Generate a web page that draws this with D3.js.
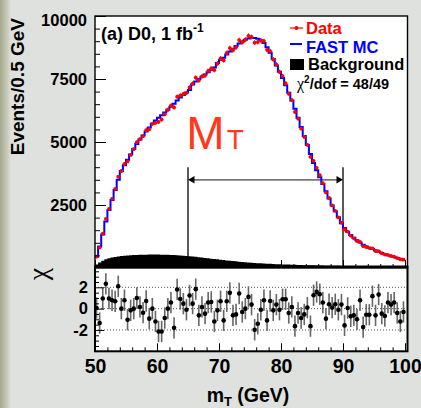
<!DOCTYPE html>
<html>
<head>
<meta charset="utf-8">
<script src="https://cdn.jsdelivr.net/npm/d3@7"></script>
<style>
html, body { margin: 0; padding: 0; background: #dfe1de; }
svg { display: block; font-family: "Liberation Sans", Arial, Helvetica, sans-serif; }
</style>
</head>
<body>
<svg width="421" height="408"></svg>
<script>
const width = 421;
const height = 408;

// histogram binning: 0.5 GeV bins from 50 to 100 GeV
const mtLow = 50, mtHigh = 100, binWidth = 0.5;

// FAST MC prediction, events per bin
const mcValues = [
  450, 850, 1330, 1850, 2300, 2700, 3100, 3500, 3850, 4080,
  4300, 4500, 4720, 4920, 5100, 5260, 5420, 5580, 5720, 5850,
  5960, 6060, 6170, 6280, 6400, 6520, 6650, 6770, 6870, 6960,
  7060, 7280, 7400, 7500, 7590, 7680, 7770, 7860, 7960, 8130,
  8250, 8340, 8470, 8590, 8700, 8810, 8910, 8990, 9060, 9110,
  9130, 9130, 9100, 9040, 8930, 8760, 8540, 8290, 8040, 7790,
  7540, 7250, 6950, 6650, 6320, 5960, 5600, 5240, 4880, 4520,
  4170, 3880, 3600, 3330, 3050, 2760, 2480, 2250, 2010, 1780,
  1590, 1440, 1310, 1200, 1100, 1010, 920, 850, 805, 750,
  690, 640, 600, 550, 510, 470, 435, 400, 365, 335
];

// measured data, events per bin
const dataValues = [
  451, 811, 1364, 1950, 2346, 2741, 3139, 3624, 3850, 4131,
  4231, 4489, 4720, 4990, 5111, 5232, 5473, 5510, 5720, 5759,
  5795, 5893, 6100, 6280, 6446, 6374, 6798, 6845, 6909, 6952,
  7163, 7320, 7557, 7445, 7604, 7639, 7820, 7916, 7853, 8116,
  8313, 8240, 8533, 8728, 8641, 8759, 9043, 8961, 9060, 9215,
  9166, 8940, 8965, 9030, 9004, 8657, 8606, 8275, 8074, 7781,
  7617, 7325, 6916, 6663, 6190, 5928, 5534, 5201, 4887, 4410,
  4252, 3977, 3681, 3363, 2998, 2782, 2485, 2269, 2005, 1796,
  1527, 1442, 1284, 1178, 1067, 1035, 868, 833, 789, 782,
  674, 673, 588, 534, 523, 478, 447, 392, 342, 329
];

// background, events per bin
const bkgValues = [
  140, 220, 290, 345, 385, 415, 440, 460, 475, 487,
  497, 505, 512, 518, 523, 527, 530, 532, 533, 533,
  532, 530, 527, 523, 518, 512, 505, 497, 488, 478,
  467, 455, 442, 428, 414, 400, 386, 372, 358, 344,
  330, 316, 302, 289, 276, 264, 252, 241, 230, 220,
  210, 201, 193, 185, 178, 171, 165, 159, 153, 148,
  143, 138, 134, 130, 126, 122, 118, 114, 111, 108,
  105, 102, 99, 96, 93, 91, 89, 87, 85, 83,
  81, 79, 77, 75, 73, 71, 69, 67, 65, 63,
  62, 61, 60, 59, 58, 57, 56, 55, 54, 53
];

// chi = (data - MC) / sigma per bin
const chiValues = [
  0.06, -1.35, 0.95, 2.33, 0.95, 0.79, 0.69, 2.1, 0, 0.79,
  -1.04, -0.16, 0, 1.0, 0.16, -0.38, 0.72, -0.94, 0, -1.2,
  -2.14, -2.14, -0.88, 0, 0.57, -1.8, 1.8, 0.91, 0.47, -0.1,
  1.23, 0.47, 1.83, -0.63, 0.16, -0.47, 0.57, 0.63, -1.2, -0.16,
  0.69, -1.1, 0.69, 1.48, -0.63, -0.54, 1.42, -0.31, 0, 1.1,
  0.38, -1.98, -1.42, -0.1, 0.79, -1.1, 0.72, -0.16, 0.38, -0.1,
  0.88, 0.88, -0.41, 0.16, -1.64, -0.41, -0.88, -0.54, 0.1, -1.64,
  1.26, 1.57, 1.35, 0.57, -0.94, 0.41, 0.1, 0.41, -0.1, 0.38,
  -1.57, 0.06, -0.72, -0.63, -1.0, 0.79, -1.73, -0.57, -0.57, 1.17,
  -0.63, 1.32, -0.47, -0.69, 0.57, 0.38, 0.57, -0.41, -1.2, -0.31
];

const xTicks = [50, 60, 70, 80, 90, 100];
const yTicks = [2500, 5000, 7500, 10000];
const chiTicks = [-2, 0, 2];
const legendLabels = ["Data", "FAST MC", "Background"];
const fitLabel = "/dof = 48/49";
const mtWindow = [65, 90];

const bins = mcValues.map((v, i) => ({
  lo: mtLow + i * binWidth,
  mid: mtLow + (i + 0.5) * binWidth,
  mc: v,
  data: dataValues[i],
  bkg: bkgValues[i],
  chi: chiValues[i]
}));

const svg = d3.select("svg");

// slide background, darker strip on the left
const grad = svg.append("defs").append("linearGradient")
  .attr("id", "edge").attr("x1", "0").attr("x2", "1");
grad.append("stop").attr("offset", "0").attr("stop-color", "#a6a98f");
grad.append("stop").attr("offset", "0.6").attr("stop-color", "#c4c7b3");
grad.append("stop").attr("offset", "1").attr("stop-color", "#dfe1de");
svg.append("rect").attr("width", width).attr("height", height).attr("fill", "#dfe1de");
svg.append("rect").attr("width", 11).attr("height", height).attr("fill", "url(#edge)");

// scales
const x = d3.scaleLinear().domain([mtLow, mtHigh]).range([95, 405]);
const y = d3.scaleLinear().domain([0, 10000]).range([268, 16]);
const yChi = d3.scaleLinear().domain([-4, 4]).range([351.3, 266]);

const frameLeft = 95, frameRight = 407.5;

// panel backgrounds
svg.append("rect").attr("x", frameLeft).attr("y", 16)
  .attr("width", frameRight - frameLeft).attr("height", 252).attr("fill", "#fff");
svg.append("rect").attr("x", frameLeft).attr("y", 267)
  .attr("width", frameRight - frameLeft).attr("height", 84.3).attr("fill", "#fff");

const g1 = svg.append("g");

// mT window arrow
const arrowY = y(3500);
mtWindow.forEach(m => {
  g1.append("line")
    .attr("x1", x(m)).attr("x2", x(m))
    .attr("y1", y(4000)).attr("y2", y(0))
    .attr("stroke", "#000").attr("stroke-width", 1.3);
});
g1.append("line")
  .attr("x1", x(mtWindow[0]) + 5).attr("x2", x(mtWindow[1]) - 5)
  .attr("y1", arrowY).attr("y2", arrowY)
  .attr("stroke", "#777").attr("stroke-width", 1.8);
g1.append("path")
  .attr("d", `M${x(mtWindow[0])},${arrowY} l6.5,-3.8 l0,7.6 Z`)
  .attr("fill", "#000");
g1.append("path")
  .attr("d", `M${x(mtWindow[1])},${arrowY} l-6.5,-3.8 l0,7.6 Z`)
  .attr("fill", "#000");

// background histogram
const stepPts = key => bins.map(b => [b.lo, b[key]]).concat([[mtHigh, bins[bins.length - 1][key]]]);
g1.append("path")
  .datum(stepPts("bkg"))
  .attr("d", d3.area().curve(d3.curveStepAfter)
    .x(d => x(d[0])).y0(y(0)).y1(d => y(d[1])))
  .attr("fill", "#000");

// FAST MC histogram
g1.append("path")
  .datum(stepPts("mc"))
  .attr("d", d3.line().curve(d3.curveStepAfter).x(d => x(d[0])).y(d => y(d[1])))
  .attr("fill", "none")
  .attr("stroke", "#0000ff")
  .attr("stroke-width", 2);

// data points with error bars
g1.selectAll(".derr")
  .data(bins).enter().append("line")
  .attr("x1", d => x(d.mid)).attr("x2", d => x(d.mid))
  .attr("y1", d => y(d.data - Math.sqrt(d.data)))
  .attr("y2", d => y(d.data + Math.sqrt(d.data)))
  .attr("stroke", "#ff0000").attr("stroke-width", 1);
g1.selectAll(".dpt")
  .data(bins).enter().append("circle")
  .attr("cx", d => x(d.mid))
  .attr("cy", d => y(d.data))
  .attr("r", 1.9)
  .attr("fill", "#ff0000");

// M_T label
const mtText = g1.append("text")
  .attr("x", 186.3).attr("y", 148.5)
  .attr("fill", "#ff3a1c")
  .attr("font-size", 46);
mtText.append("tspan").text("M");
mtText.append("tspan").attr("font-size", 28).attr("dx", 2).text("T");

// title
const title = g1.append("text")
  .attr("x", 101).attr("y", 40)
  .attr("font-size", 18).attr("font-weight", "bold");
title.append("tspan").text("(a) D0, 1 fb");
title.append("tspan").attr("font-size", 12).attr("dy", -8).text("-1");

// legend
const legend = svg.append("g");
legend.append("line").attr("x1", 290).attr("x2", 303).attr("y1", 28).attr("y2", 28)
  .attr("stroke", "#ff0000").attr("stroke-width", 1.2);
legend.append("circle").attr("cx", 296.5).attr("cy", 28).attr("r", 1.9).attr("fill", "#ff0000");
legend.append("line").attr("x1", 290).attr("x2", 302).attr("y1", 44).attr("y2", 44)
  .attr("stroke", "#0000ff").attr("stroke-width", 2);
legend.append("rect").attr("x", 290).attr("y", 59).attr("width", 14).attr("height", 11)
  .attr("fill", "#000");
const legendColors = ["#ff0000", "#0000ff", "#000"];
const legendX = [306, 306, 308];
const legendY = [34.3, 53, 69.5];
legendLabels.forEach((lab, i) => {
  legend.append("text")
    .attr("x", legendX[i]).attr("y", legendY[i])
    .attr("font-size", 16.5).attr("font-weight", "bold")
    .attr("fill", legendColors[i])
    .text(lab);
});
const fit = legend.append("text")
  .attr("x", 297).attr("y", 89.3)
  .attr("font-size", 14.5).attr("font-weight", "bold");
fit.append("tspan").attr("font-family", "'Liberation Serif', serif").attr("font-weight", "normal")
  .attr("font-size", 16).text("χ");
fit.append("tspan").attr("font-size", 10).attr("dy", -6).text("2");
fit.append("tspan").attr("dy", 6).text(fitLabel);

// ratio panel
const g2 = svg.append("g");
chiTicks.forEach(t => {
  g2.append("line")
    .attr("x1", frameLeft).attr("x2", frameRight)
    .attr("y1", yChi(t)).attr("y2", yChi(t))
    .attr("stroke", "#555").attr("stroke-width", 1)
    .attr("stroke-dasharray", "1,2");
});
g2.selectAll(".cerr")
  .data(bins).enter().append("line")
  .attr("x1", d => x(d.mid)).attr("x2", d => x(d.mid))
  .attr("y1", d => yChi(d.chi - 1)).attr("y2", d => yChi(d.chi + 1))
  .attr("stroke", "#666").attr("stroke-width", 1.6);
g2.selectAll(".cpt")
  .data(bins).enter().append("circle")
  .attr("cx", d => x(d.mid))
  .attr("cy", d => yChi(d.chi))
  .attr("r", 2.3)
  .attr("fill", "#000");

// frames
svg.append("rect").attr("x", frameLeft).attr("y", 16)
  .attr("width", frameRight - frameLeft).attr("height", 252)
  .attr("fill", "none").attr("stroke", "#000").attr("stroke-width", 1.4);
svg.append("rect").attr("x", frameLeft).attr("y", 266.5)
  .attr("width", frameRight - frameLeft).attr("height", 84.8)
  .attr("fill", "none").attr("stroke", "#000").attr("stroke-width", 2);

// axes
function styleAxis(g, size) {
  g.select(".domain").remove();
  g.attr("font-family", null).attr("font-size", size).attr("font-weight", "bold");
  g.selectAll("line").attr("stroke", "#000");
  return g;
}
const plain = d => String(d);

const minorY = d3.range(500, 10000, 500).filter(v => v % 2500 !== 0);
styleAxis(svg.append("g").attr("transform", `translate(${frameLeft},0)`)
  .call(d3.axisLeft(y).tickValues(minorY).tickSize(-5).tickFormat("")), 16.5);
const yAx = styleAxis(svg.append("g").attr("transform", `translate(${frameLeft},0)`)
  .call(d3.axisLeft(y).tickValues(yTicks).tickSize(-11).tickPadding(8).tickFormat(plain)), 16.5);
yAx.selectAll("text").filter(d => d === 10000).attr("dy", "0.55em");

const minorChi = d3.range(-3.5, 4, 0.5).filter(v => v % 2 !== 0);
styleAxis(svg.append("g").attr("transform", `translate(${frameLeft},0)`)
  .call(d3.axisLeft(yChi).tickValues(minorChi).tickSize(-4).tickFormat("")), 16.5);
styleAxis(svg.append("g").attr("transform", `translate(${frameLeft},0)`)
  .call(d3.axisLeft(yChi).tickValues(chiTicks).tickSize(-9).tickPadding(7).tickFormat(plain)), 16.5);

const minorX = d3.range(52, 100, 2).filter(v => v % 10 !== 0);
[268, 351.3].forEach((yy, i) => {
  styleAxis(svg.append("g").attr("transform", `translate(0,${yy})`)
    .call(d3.axisBottom(x).tickValues(minorX).tickSize(-4).tickFormat("")), 19.5);
  const ax = d3.axisBottom(x).tickValues(xTicks).tickSize(-8).tickPadding(7.4)
    .tickFormat(i === 0 ? "" : plain);
  styleAxis(svg.append("g").attr("transform", `translate(0,${yy})`).call(ax), 19.5);
});

// axis titles
svg.append("text")
  .attr("transform", "rotate(-90)")
  .attr("x", -18).attr("y", 23.5)
  .attr("text-anchor", "end")
  .attr("font-size", 19).attr("font-weight", "bold")
  .text("Events/0.5 GeV");

svg.append("text")
  .attr("transform", "rotate(-90)")
  .attr("x", -274).attr("y", 47)
  .attr("text-anchor", "middle")
  .attr("font-family", "'Liberation Serif', serif")
  .attr("font-size", 28)
  .text("χ");

const xTitle = svg.append("text")
  .attr("x", 248).attr("y", 401.5)
  .attr("text-anchor", "middle")
  .attr("font-size", 19.5).attr("font-weight", "bold");
xTitle.append("tspan").text("m");
xTitle.append("tspan").attr("font-size", 13).attr("dy", 4).text("T");
xTitle.append("tspan").attr("dy", -4).text(" (GeV)");
</script>
</body>
</html>
